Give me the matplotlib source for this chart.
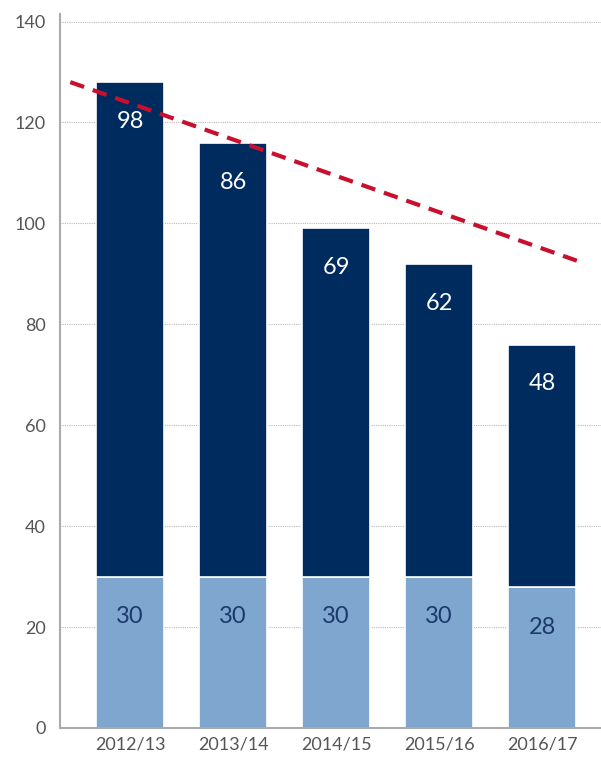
import matplotlib
matplotlib.use("Agg")
import matplotlib.pyplot as plt
import numpy as np

categories = ["2012/13", "2013/14", "2014/15", "2015/16", "2016/17"]
base_values = [30, 30, 30, 30, 28]
top_values = [98, 86, 69, 62, 48]
trend_start = 128
trend_end = 92
yticks = [0, 20, 40, 60, 80, 100, 120, 140]

plt.rcParams['font.family'] = ['Lato', 'DejaVu Sans']

fig = plt.figure(figsize=(6.01, 7.57), dpi=100)
ax = fig.add_axes([60/601, 29/757, 541/601, 714/757])

x = np.arange(len(categories))
w = 0.66
light = "#7FA6CE"
dark = "#002B5E"
ax.bar(x, base_values, width=w, color=light, edgecolor="white", linewidth=1.2, zorder=2)
ax.bar(x, top_values, bottom=base_values, width=w, color=dark, edgecolor="white", linewidth=1.2, zorder=2)

for xi, b, t in zip(x, base_values, top_values):
    ax.text(xi, b - 8.0, str(b), ha="center", va="center", color="#1B3A6B", fontsize=17, zorder=3)
    ax.text(xi, b + t - 7.8, str(t), ha="center", va="center", color="white", fontsize=17, zorder=3)

ax.plot([-0.58, 4.42], [trend_start, trend_end], linestyle=(0, (3.5, 2.2)), color="#C8102E", linewidth=3, zorder=4)

ax.set_xlim(-0.68, 4.57)
ax.set_ylim(0, 141.5)
ax.set_yticks(yticks)
ax.set_xticks(x)
ax.set_xticklabels(categories)
ax.tick_params(axis="both", length=0, labelsize=13, colors="#555555")
ax.tick_params(axis="y", pad=10)
ax.tick_params(axis="x", pad=6)
ax.grid(axis="y", linestyle=(0, (1, 1)), color="#BBBBBB", linewidth=0.8, zorder=0)
ax.set_axisbelow(True)
for s in ["top", "right"]:
    ax.spines[s].set_visible(False)
for s in ["left", "bottom"]:
    ax.spines[s].set_color("#AAAAAA")
    ax.spines[s].set_linewidth(1.5)

fig.savefig("out.png", dpi=100)
